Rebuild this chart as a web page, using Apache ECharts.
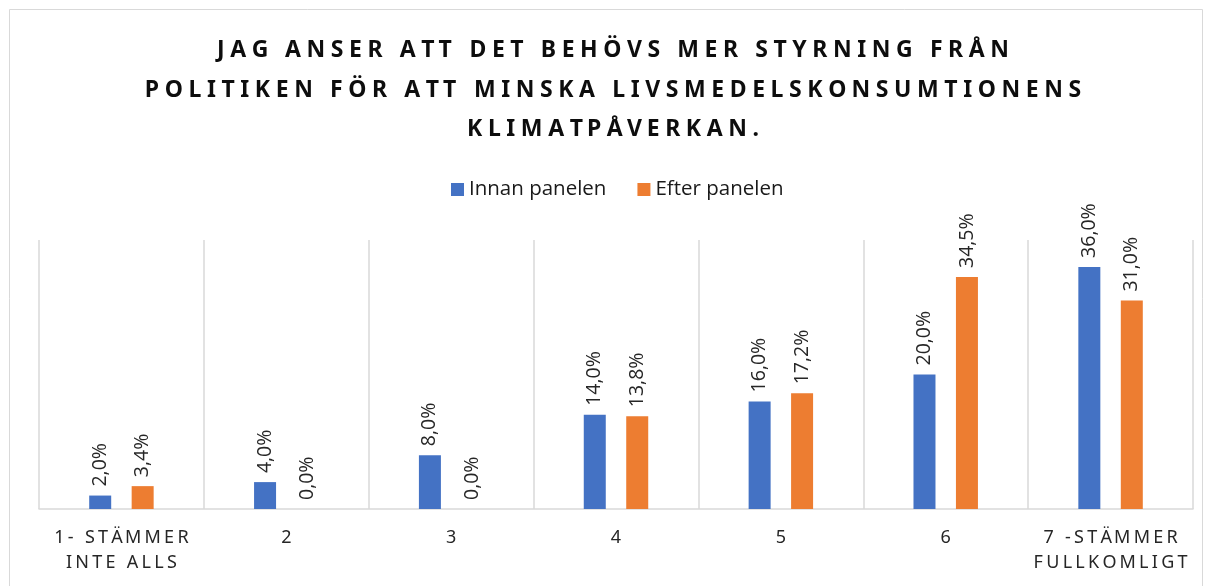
<!DOCTYPE html>
<html>
<head>
<meta charset="utf-8">
<script src="https://cdn.jsdelivr.net/npm/echarts@6/dist/echarts.min.js"></script>
<style>html,body{margin:0;padding:0;background:#fff;}#c{width:1210px;height:586px;}</style>
</head>
<body>
<div id="c"></div>
<script>
const titleLines = ['JAG ANSER ATT DET BEHÖVS MER STYRNING FRÅN', 'POLITIKEN FÖR ATT MINSKA LIVSMEDELSKONSUMTIONENS', 'KLIMATPÅVERKAN.'];
const categories = ['1- STÄMMER\nINTE ALLS', '2', '3', '4', '5', '6', '7 -STÄMMER\nFULLKOMLIGT'];
const seriesNames = ['Innan panelen', 'Efter panelen'];
const innan = [2.0, 4.0, 8.0, 14.0, 16.0, 20.0, 36.0];
const efter = [3.4, 0.0, 0.0, 13.8, 17.2, 34.5, 31.0];

// letter-spacing (the reference uses spaced capitals for title and axis labels)
const TITLE_FONT = 'bold 23px "Noto Sans"';
const AXIS_FONT = '18px "Noto Sans"';
const mc = document.createElement('canvas').getContext('2d');
function spacingFor(font, text, target) {
  mc.font = font;
  const w = mc.measureText(text).width;
  return Math.max(0, (target - w) / (text.length - 1));
}
const titleLS = spacingFor(TITLE_FONT, titleLines[0], 792);
const axisLS = spacingFor(AXIS_FONT, 'FULLKOMLIGT', 154);
const origFill = CanvasRenderingContext2D.prototype.fillText;
CanvasRenderingContext2D.prototype.fillText = function (t, x, y, m) {
  const f = this.font || '';
  let ls = 0;
  if (f.indexOf('Noto Sans') >= 0) {
    if (f.indexOf('23px') >= 0) ls = titleLS;
    else if (f.indexOf('18px') >= 0) ls = axisLS;
  }
  const s = String(t);
  if (!ls || s.length < 2) {
    return m === undefined ? origFill.call(this, t, x, y) : origFill.call(this, t, x, y, m);
  }
  const total = this.measureText(s).width + ls * (s.length - 1);
  const align = this.textAlign;
  let x0 = x;
  if (align === 'center') x0 = x - total / 2;
  else if (align === 'right' || align === 'end') x0 = x - total;
  this.textAlign = 'left';
  for (let i = 0; i < s.length; i++) {
    const px = x0 + this.measureText(s.slice(0, i)).width + ls * i;
    origFill.call(this, s[i], px, y);
  }
  this.textAlign = align;
};

const chart = echarts.init(document.getElementById('c'), null, {renderer: 'canvas'});
const fmt = p => p.value.toFixed(1).replace('.', ',') + '%';
const labelStyle = {
  show: true, position: 'top', rotate: 90, align: 'left', verticalAlign: 'middle',
  distance: 9, formatter: fmt, color: '#262626', fontSize: 19.5, fontFamily: 'Open Sans'
};
chart.setOption({
  animation: false,
  backgroundColor: '#fff',
  graphic: [{type: 'rect', shape: {x: 9.5, y: 9.5, width: 1193, height: 600}, style: {fill: 'none', stroke: '#D9D9D9', lineWidth: 1}, silent: true}],
  title: {
    text: titleLines.join('\n'), left: 608, top: 26, textAlign: 'center',
    textStyle: {fontFamily: 'Noto Sans', fontWeight: 'bold', fontSize: 23, lineHeight: 39.5, color: '#0d0d0d'}
  },
  legend: {
    data: seriesNames, top: 174, left: 446, itemWidth: 13, itemHeight: 13, itemGap: 31,
    icon: 'rect',
    textStyle: {fontFamily: 'Open Sans', fontSize: 20.5, color: '#1a1a1a'}
  },
  grid: {left: 39, right: 17, top: 240, bottom: 77, containLabel: false},
  xAxis: {
    type: 'category', data: categories,
    axisLine: {show: true, lineStyle: {color: '#D9D9D9', width: 1.5}},
    axisTick: {show: false},
    splitLine: {show: true, lineStyle: {color: '#D9D9D9', width: 1.5}},
    axisLabel: {interval: 0, color: '#262626', fontFamily: 'Noto Sans', fontSize: 18, lineHeight: 25, margin: 16}
  },
  yAxis: {
    type: 'value', min: 0, max: 40, interval: 10, show: false,
    splitLine: {show: false}
  },
  series: [
    {name: seriesNames[0], type: 'bar', data: innan, barWidth: 22, barGap: '93%', itemStyle: {color: '#4472C4'}, label: labelStyle},
    {name: seriesNames[1], type: 'bar', data: efter, barWidth: 22, itemStyle: {color: '#ED7D31'}, label: labelStyle}
  ]
});
</script>
</body>
</html>
